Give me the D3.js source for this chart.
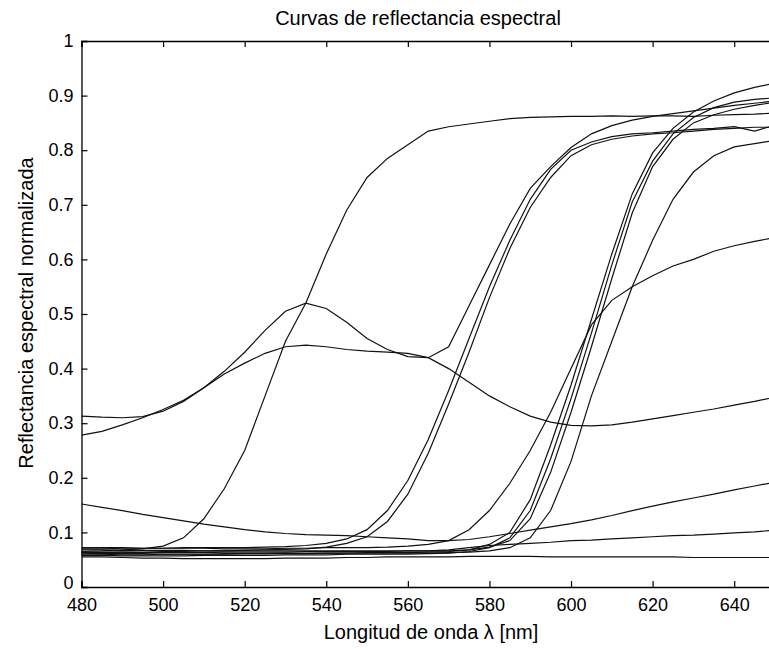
<!DOCTYPE html>
<html>
<head>
<meta charset="utf-8">
<script src="https://cdn.jsdelivr.net/npm/d3@7"></script>
<style>
  body { margin: 0; background: #fff; }
  text { font-family: "Liberation Sans", Arial, sans-serif; fill: #000; }
</style>
</head>
<body>
<svg id="chart"></svg>
<script>
// wavelength grid, nm
const wavelengths = d3.range(480, 651, 5);

// reflectance curves (one value per wavelength)
const curveA  = [0.065,0.066,0.068,0.070,0.075,0.090,0.125,0.180,0.250,0.350,0.450,0.520,0.610,0.690,0.750,0.785,0.810,0.835,0.843,0.848,0.853,0.858,0.860,0.861,0.862,0.862,0.863,0.862,0.863,0.863,0.862,0.864,0.865,0.866,0.868];
const curveB  = [0.313,0.311,0.310,0.312,0.322,0.340,0.365,0.395,0.430,0.470,0.505,0.520,0.510,0.485,0.455,0.435,0.422,0.420,0.440,0.515,0.590,0.665,0.730,0.770,0.805,0.830,0.845,0.855,0.862,0.867,0.872,0.877,0.882,0.886,0.890];
const curveC  = [0.278,0.285,0.297,0.310,0.325,0.342,0.365,0.390,0.410,0.428,0.440,0.443,0.440,0.435,0.432,0.430,0.428,0.420,0.400,0.375,0.350,0.330,0.313,0.302,0.296,0.295,0.297,0.302,0.308,0.314,0.320,0.326,0.333,0.340,0.348];
const curveD  = [0.152,0.146,0.140,0.133,0.127,0.121,0.115,0.110,0.105,0.101,0.098,0.096,0.095,0.094,0.092,0.090,0.088,0.085,0.085,0.087,0.092,0.098,0.104,0.110,0.116,0.123,0.131,0.140,0.148,0.156,0.163,0.170,0.178,0.185,0.192];
const curveE  = [0.070,0.070,0.071,0.071,0.071,0.072,0.072,0.072,0.072,0.073,0.074,0.076,0.080,0.088,0.105,0.140,0.195,0.270,0.360,0.455,0.550,0.635,0.710,0.765,0.800,0.815,0.825,0.830,0.832,0.835,0.838,0.840,0.843,0.835,0.846];
const curveE2 = [0.063,0.063,0.064,0.064,0.065,0.065,0.066,0.066,0.067,0.068,0.069,0.070,0.073,0.080,0.092,0.120,0.170,0.245,0.335,0.430,0.530,0.620,0.695,0.750,0.790,0.810,0.820,0.826,0.830,0.832,0.835,0.838,0.840,0.842,0.842];
const curveF  = [0.072,0.072,0.072,0.071,0.071,0.071,0.071,0.070,0.070,0.070,0.071,0.071,0.072,0.072,0.072,0.073,0.075,0.078,0.085,0.105,0.140,0.190,0.250,0.320,0.400,0.480,0.525,0.550,0.570,0.588,0.600,0.615,0.625,0.633,0.640];
const curveG1 = [0.060,0.060,0.059,0.059,0.060,0.060,0.060,0.061,0.061,0.061,0.062,0.062,0.062,0.062,0.063,0.063,0.063,0.064,0.065,0.068,0.078,0.100,0.160,0.260,0.370,0.490,0.610,0.720,0.795,0.840,0.870,0.890,0.905,0.915,0.923];
const curveG2 = [0.058,0.058,0.057,0.057,0.057,0.057,0.058,0.058,0.058,0.058,0.059,0.059,0.059,0.060,0.060,0.060,0.060,0.061,0.062,0.065,0.072,0.090,0.140,0.235,0.345,0.465,0.590,0.705,0.780,0.830,0.860,0.878,0.888,0.893,0.896];
const curveG3 = [0.064,0.064,0.064,0.063,0.063,0.063,0.063,0.064,0.064,0.064,0.064,0.065,0.065,0.065,0.065,0.065,0.066,0.066,0.066,0.068,0.073,0.085,0.125,0.210,0.320,0.440,0.565,0.685,0.770,0.820,0.850,0.865,0.875,0.882,0.888];
const curveG4 = [0.062,0.061,0.061,0.061,0.060,0.060,0.060,0.060,0.061,0.061,0.061,0.061,0.062,0.062,0.062,0.062,0.062,0.062,0.063,0.064,0.066,0.072,0.090,0.140,0.230,0.350,0.450,0.550,0.635,0.710,0.760,0.790,0.806,0.812,0.818];
const curveH  = [0.068,0.068,0.067,0.067,0.067,0.067,0.066,0.066,0.066,0.066,0.066,0.066,0.066,0.066,0.066,0.066,0.066,0.066,0.068,0.072,0.076,0.078,0.080,0.082,0.085,0.086,0.088,0.090,0.092,0.094,0.095,0.097,0.099,0.101,0.104];
const curveI  = [0.055,0.055,0.054,0.053,0.053,0.052,0.052,0.052,0.052,0.052,0.053,0.053,0.053,0.054,0.054,0.055,0.055,0.055,0.055,0.056,0.056,0.056,0.056,0.055,0.055,0.055,0.055,0.055,0.055,0.055,0.054,0.054,0.054,0.054,0.054];

const curves = [curveA, curveB, curveC, curveD, curveE, curveE2, curveF, curveG1, curveG2, curveG3, curveG4, curveH, curveI];

const xTicks = [480, 500, 520, 540, 560, 580, 600, 620, 640];
const yTicks = [0, 0.1, 0.2, 0.3, 0.4, 0.5, 0.6, 0.7, 0.8, 0.9, 1];

const titleText = "Curvas de reflectancia espectral";
const xLabelText = "Longitud de onda \u03bb [nm]";
const yLabelText = "Reflectancia espectral normalizada";

const W = 769, H = 649;
const plot = { left: 81.5, top: 41, right: 775, bottom: 587 };

const svg = d3.select("#chart").attr("width", W).attr("height", H);

const x = d3.scaleLinear().domain([480, 650]).range([plot.left, plot.right]);
const y = d3.scaleLinear().domain([0, 1]).range([plot.bottom, plot.top]);

svg.append("rect").attr("width", W).attr("height", H).attr("fill", "#fff");

svg.append("clipPath").attr("id", "clip")
  .append("rect")
  .attr("x", plot.left).attr("y", plot.top)
  .attr("width", plot.right - plot.left).attr("height", plot.bottom - plot.top);

// curves
const line = d3.line()
  .x((d, i) => x(wavelengths[i]))
  .y(d => y(d));

svg.append("g")
  .attr("clip-path", "url(#clip)")
  .selectAll("path")
  .data(curves)
  .join("path")
  .attr("d", line)
  .attr("fill", "none")
  .attr("stroke", "#111")
  .attr("stroke-width", 1.2);

// axes: matlab style, ticks pointing inward
const tickLen = 6;
const tickFont = 18;
const labelFont = 20;

const bottomAxis = svg.append("g")
  .attr("transform", `translate(0,${plot.bottom})`)
  .call(d3.axisBottom(x).tickValues(xTicks).tickSize(-tickLen).tickPadding(11).tickFormat(d3.format("d")));

const topAxis = svg.append("g")
  .attr("transform", `translate(0,${plot.top})`)
  .call(d3.axisTop(x).tickValues(xTicks).tickSize(-tickLen).tickFormat(""));

const leftAxis = svg.append("g")
  .attr("transform", `translate(${plot.left},0)`)
  .call(d3.axisLeft(y).tickValues(yTicks).tickSize(-tickLen).tickPadding(8).tickFormat(d => d === 0 || d === 1 ? d3.format("d")(d) : d3.format(".1f")(d)));

[bottomAxis, topAxis, leftAxis].forEach(g => {
  g.select(".domain").attr("stroke", "#000").attr("stroke-width", 1.3);
  g.selectAll(".tick line").attr("stroke", "#000").attr("stroke-width", 1.2);
  g.selectAll("text").attr("font-size", tickFont).attr("fill", "#000")
    .style("font-family", "'Liberation Sans', Arial, sans-serif");
});

// the "0" label sits just above the corner so it clears "480"
leftAxis.selectAll(".tick").filter(d => d === 0).select("text").attr("y", -4);

// titles
svg.append("text")
  .attr("x", 418)
  .attr("y", 25)
  .attr("text-anchor", "middle")
  .attr("font-size", labelFont)
  .text(titleText);

svg.append("text")
  .attr("x", 431)
  .attr("y", 639)
  .attr("text-anchor", "middle")
  .attr("font-size", labelFont)
  .text(xLabelText);

svg.append("text")
  .attr("transform", `translate(33,313) rotate(-90)`)
  .attr("text-anchor", "middle")
  .attr("font-size", labelFont)
  .text(yLabelText);
</script>
</body>
</html>
